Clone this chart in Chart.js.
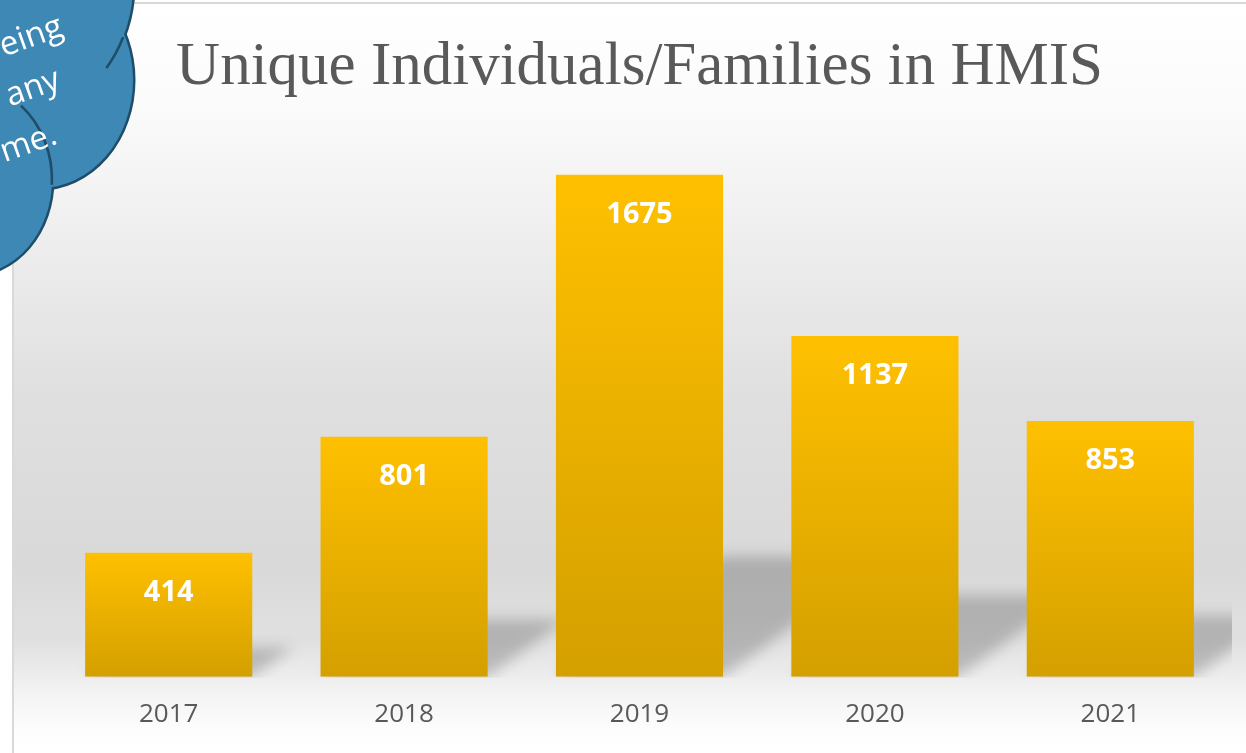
<!DOCTYPE html>
<html><head><meta charset="utf-8">
<script src="https://cdn.jsdelivr.net/npm/chart.js@4.4.0/dist/chart.umd.min.js"></script>
<style>html,body{margin:0;padding:0;background:#fff;overflow:hidden}#wrap{width:1246px;height:753px;position:relative}</style>
</head><body><div id="wrap"><canvas id="c" width="1246" height="753"></canvas></div>
<script>
const categories = ['2017', '2018', '2019', '2020', '2021'];
const values = [414, 801, 1675, 1137, 853];
const titleText = 'Unique Individuals/Families in HMIS';
const calloutLines = ['eing', 'any', 'me.'];

const bgPlugin = {
  id: 'bg',
  beforeDraw(chart) {
    const ctx = chart.ctx, W = chart.width, H = chart.height;
    ctx.save();
    ctx.fillStyle = '#ffffff';
    ctx.fillRect(0, 0, W, H);
    const g = ctx.createLinearGradient(0, 0, 0, H);
    g.addColorStop(0.0, '#ffffff');
    g.addColorStop(0.14, '#fbfbfb');
    g.addColorStop(0.33, '#ededed');
    g.addColorStop(0.53, '#dfdfdf');
    g.addColorStop(0.75, '#d9d9d9');
    g.addColorStop(0.85, '#e0e0e0');
    g.addColorStop(0.92, '#f3f3f3');
    g.addColorStop(0.97, '#fdfdfd');
    g.addColorStop(1.0, '#ffffff');
    ctx.fillStyle = g;
    ctx.fillRect(14, 4, W - 14, H - 4);
    ctx.fillStyle = '#d9d9d9';
    ctx.fillRect(12, 2, W - 12, 2);
    ctx.fillRect(12, 2, 2, H - 2);
    ctx.restore();
  }
};

const shadowPlugin = {
  id: 'shadows',
  beforeDatasetsDraw(chart) {
    const ctx = chart.ctx, area = chart.chartArea;
    const meta = chart.getDatasetMeta(0);
    ctx.save();
    ctx.beginPath();
    ctx.rect(area.left, 0, 1232 - area.left, area.bottom + 1);
    ctx.clip();
    ctx.filter = 'blur(7px)';
    ctx.fillStyle = 'rgba(0,0,0,0.2)';
    meta.data.forEach(bar => {
      const p = bar.getProps(['x', 'y', 'base', 'width'], true);
      const L = p.x - p.width / 2, R = p.x + p.width / 2, h = p.base - p.y;
      const dx = 0.33 * h, dy = 0.24 * h;
      ctx.beginPath();
      ctx.moveTo(L, p.base);
      ctx.lineTo(R, p.base);
      ctx.lineTo(R + dx, p.base - dy);
      ctx.lineTo(L + dx, p.base - dy);
      ctx.closePath();
      ctx.fill();
    });
    ctx.restore();
  }
};

const labelPlugin = {
  id: 'valueLabels',
  afterDatasetsDraw(chart) {
    const ctx = chart.ctx;
    const meta = chart.getDatasetMeta(0);
    ctx.save();
    ctx.font = 'bold 29px "Open Sans"';
    ctx.fillStyle = '#ffffff';
    ctx.textAlign = 'center';
    ctx.textBaseline = 'middle';
    meta.data.forEach((bar, i) => {
      ctx.fillText(String(values[i]), bar.x, bar.y + 40);
    });
    ctx.restore();
  }
};

const cloudPlugin = {
  id: 'cloud',
  afterDraw(chart) {
    const ctx = chart.ctx;
    const lobes = [
      [-10, -15, 143, 143],
      [40, 80, 93, 108],
      [-30, 180, 82, 95]
    ];
    ctx.save();
    ctx.strokeStyle = '#1f4c68';
    ctx.lineWidth = 5;
    lobes.forEach(l => { ctx.beginPath(); ctx.ellipse(l[0], l[1], l[2], l[3], 0, 0, Math.PI * 2); ctx.stroke(); });
    ctx.fillStyle = '#3d88b4';
    lobes.forEach(l => { ctx.beginPath(); ctx.ellipse(l[0], l[1], l[2], l[3], 0, 0, Math.PI * 2); ctx.fill(); });
    ctx.lineWidth = 2.6;
    ctx.beginPath(); ctx.arc(-10, -15, 143, 0.373, 0.62); ctx.stroke();
    ctx.beginPath(); ctx.ellipse(-30, 180, 82, 95, 0, -0.9, 0.05); ctx.stroke();
    ctx.fillStyle = '#ffffff';
    ctx.font = '33px "Open Sans"';
    ctx.textAlign = 'right';
    ctx.textBaseline = 'alphabetic';
    const pts = [[65, 35], [62, 88], [59, 143]];
    calloutLines.forEach((t, i) => {
      ctx.save();
      ctx.translate(pts[i][0], pts[i][1]);
      ctx.rotate(-0.34);
      ctx.fillText(t, 0, 0);
      ctx.restore();
    });
    ctx.restore();
  }
};

new Chart(document.getElementById('c'), {
  type: 'bar',
  data: {
    labels: categories,
    datasets: [{
      data: values,
      backgroundColor: (c) => {
        const chart = c.chart;
        if (!chart.chartArea || c.dataIndex === undefined) return '#eab100';
        const ys = chart.scales.y;
        const top = ys.getPixelForValue(values[c.dataIndex]);
        const bottom = ys.getPixelForValue(0);
        const g = chart.ctx.createLinearGradient(0, top, 0, bottom);
        g.addColorStop(0, '#ffc000');
        g.addColorStop(1, '#d4a000');
        return g;
      },
      borderWidth: 0,
      categoryPercentage: 0.71,
      barPercentage: 1.0
    }]
  },
  options: {
    responsive: false,
    devicePixelRatio: 1,
    animation: false,
    events: [],
    layout: { padding: { left: 51, right: 18, top: 0, bottom: 1 } },
    plugins: {
      legend: { display: false },
      tooltip: { enabled: false },
      title: {
        display: true,
        text: titleText,
        color: '#595959',
        font: { family: '"Liberation Serif", serif', size: 61, weight: 'normal', lineHeight: 1.2 },
        padding: { top: 31, bottom: 3 }
      }
    },
    scales: {
      x: {
        grid: { display: false, drawTicks: false },
        border: { display: false },
        ticks: { color: '#595959', font: { family: '"Open Sans"', size: 26 }, padding: 22 }
      },
      y: {
        display: false,
        min: 0,
        max: 1900
      }
    }
  },
  plugins: [bgPlugin, shadowPlugin, labelPlugin, cloudPlugin]
});
</script>
</body></html>
